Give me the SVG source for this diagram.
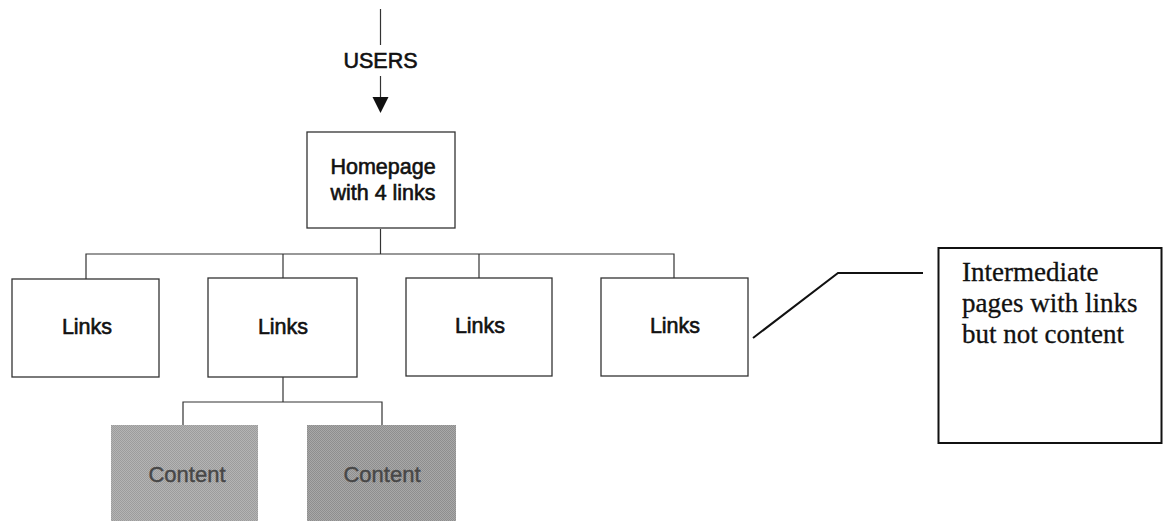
<svg xmlns="http://www.w3.org/2000/svg" width="1163" height="521" viewBox="0 0 1163 521">
  <style>
    .box { fill: #ffffff; stroke: #333333; stroke-width: 1.3; }
    .label { font-family: "Liberation Sans", Arial, sans-serif; font-size: 21.5px; fill: #111111; stroke: #111111; stroke-width: 0.6; text-anchor: middle; }
    .content-label { font-family: "Liberation Sans", Arial, sans-serif; font-size: 22px; fill: #474747; stroke: #474747; stroke-width: 0.4; text-anchor: middle; }
    .wire { fill: none; stroke: #333333; stroke-width: 1.2; }
    .callout-line { fill: none; stroke: #111111; stroke-width: 2; }
    .note { font-family: "Liberation Serif", "Times New Roman", serif; font-size: 27px; fill: #111111; stroke: #111111; stroke-width: 0.3; }
  </style>
  <defs>
    <!-- halftone-like grey for the content pages -->
    <pattern id="dots-light" width="2" height="2" patternUnits="userSpaceOnUse">
      <rect width="2" height="2" fill="#b4b4b4"/>
      <rect width="1" height="1" fill="#9c9c9c"/>
      <rect x="1" y="1" width="1" height="1" fill="#9c9c9c"/>
    </pattern>
    <pattern id="dots-dark" width="2" height="2" patternUnits="userSpaceOnUse">
      <rect width="2" height="2" fill="#a8a8a8"/>
      <rect width="1" height="1" fill="#8e8e8e"/>
      <rect x="1" y="1" width="1" height="1" fill="#8e8e8e"/>
    </pattern>
  </defs>

  <rect width="1163" height="521" fill="#ffffff"/>

  <!-- entry point -->
  <g id="users">
    <line x1="380.5" y1="9" x2="380.5" y2="45" class="wire"/>
    <text x="380.5" y="68" class="label">USERS</text>
    <line x1="380.5" y1="76" x2="380.5" y2="99" class="wire"/>
    <polygon points="372.5,97 388.5,97 380.5,113" fill="#111111"/>
  </g>

  <!-- tree connectors -->
  <g id="connectors">
    <line x1="380.5" y1="229" x2="380.5" y2="254" class="wire"/>
    <polyline points="86,279 86,254 674,254 674,278" class="wire"/>
    <line x1="283" y1="254" x2="283" y2="278" class="wire"/>
    <line x1="479" y1="254" x2="479" y2="278" class="wire"/>
    <line x1="283" y1="377" x2="283" y2="402" class="wire"/>
    <polyline points="183,425 183,402 382,402 382,425" class="wire"/>
    <polyline points="753,338 838,273 923,273" class="callout-line"/>
  </g>

  <g id="homepage">
    <rect x="307" y="132" width="148" height="96" class="box"/>
    <text x="383" y="174" class="label">Homepage</text>
    <text x="383" y="200" class="label">with 4 links</text>
  </g>

  <g id="links-1">
    <rect x="12" y="279" width="147" height="98" class="box"/>
    <text x="87" y="334" class="label">Links</text>
  </g>
  <g id="links-2">
    <rect x="208" y="278" width="149" height="99" class="box"/>
    <text x="283" y="334" class="label">Links</text>
  </g>
  <g id="links-3">
    <rect x="406" y="278" width="146" height="98" class="box"/>
    <text x="480" y="333" class="label">Links</text>
  </g>
  <g id="links-4">
    <rect x="601" y="278" width="147" height="98" class="box"/>
    <text x="675" y="333" class="label">Links</text>
  </g>

  <g id="content-1">
    <rect x="111" y="425" width="147" height="110" fill="url(#dots-light)"/>
    <text x="187" y="482" class="content-label">Content</text>
  </g>
  <g id="content-2">
    <rect x="307" y="425" width="149" height="110" fill="url(#dots-dark)"/>
    <text x="382" y="482" class="content-label">Content</text>
  </g>

  <g id="note">
    <rect x="938.5" y="248" width="223" height="195" fill="#ffffff" stroke="#111111" stroke-width="2"/>
    <text x="962" y="281" class="note">Intermediate</text>
    <text x="962" y="312" class="note">pages with links</text>
    <text x="962" y="343" class="note">but not content</text>
  </g>
</svg>
